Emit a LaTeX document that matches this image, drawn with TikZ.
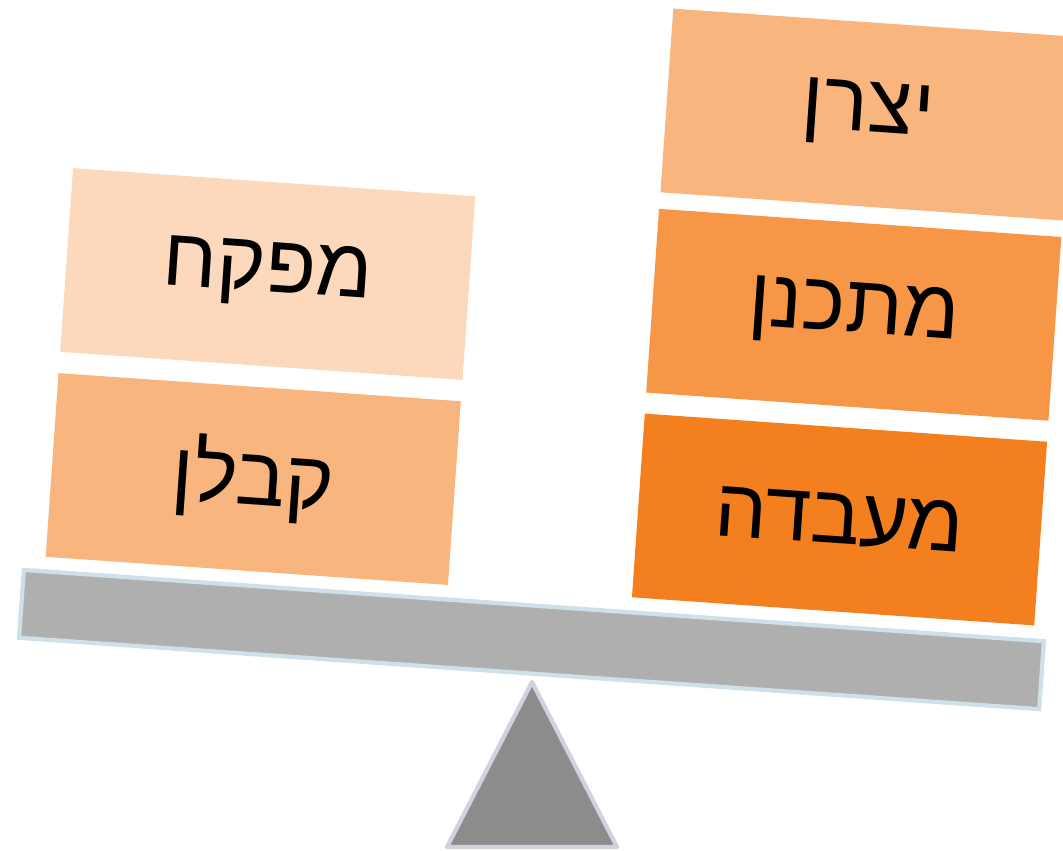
\documentclass[tikz,border=0pt]{standalone}
\usepackage{fontspec}
\newfontfamily\hebfont[Script=Hebrew]{Liberation Sans}
\TeXXeTstate=1
\usetikzlibrary{positioning}
\definecolor{palepeach}{HTML}{FCD9BC}
\definecolor{peach}{HTML}{F9B57E}
\definecolor{midorange}{HTML}{F79646}
\definecolor{deeporange}{HTML}{F47F1E}
\definecolor{beamgray}{HTML}{AFAFAF}
\definecolor{beamline}{HTML}{CFE0E8}
\definecolor{pivotgray}{HTML}{8C8C8C}
\definecolor{pivotline}{HTML}{D4D0E0}
\tikzstyle{block} = [rectangle, rotate=-4, inner sep=0pt, minimum width=4.03cm, minimum height=1.84cm, font=\hebfont\fontsize{23.5}{28}\selectfont, text=black]
\tikzstyle{beam} = [rectangle, rotate=-4, draw=beamline, line width=1.2pt, fill=beamgray, minimum width=10.22cm, minimum height=0.68cm]

\begin{document}
\begin{tikzpicture}[x={(0.01cm,0)}, y={(0,-0.01cm)}]
	\clip (0,0) rectangle (1063,850);
	\fill[white] (0,0) rectangle (1063,850);

	% pivot
	\filldraw[fill=pivotgray, draw=pivotline, line width=1.2pt, line join=round] (532,682) -- (617,847) -- (447,847) -- cycle;
	\node [beam] (beam) at (531.5,639.5) {};

	% left pan
	\node [block, fill=palepeach] (mefakeach) at (267.75,274) {\beginR מפקח\endR};
	\node [block, fill=peach] (kablan) at (253.25,479) {\beginR קבלן\endR};

	% right pan
	\node [block, fill=peach] (yatzran) at (868,114.5) {\beginR יצרן\endR};
	\node [block, fill=midorange] (metachnen) at (853.75,314.75) {\beginR מתכנן\endR};
	\node [block, fill=deeporange] (maabada) at (839.5,519.5) {\beginR מעבדה\endR};
\end{tikzpicture}
\end{document}
